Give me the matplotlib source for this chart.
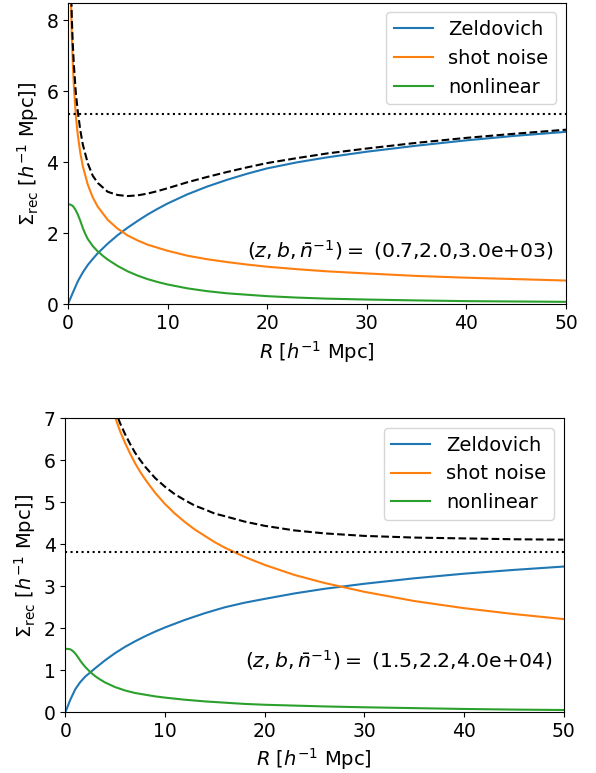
import matplotlib
matplotlib.use("Agg")
import matplotlib.pyplot as plt

# ---- Panel 1: (z, b, 1/n) = (0.7, 2.0, 3.0e+03) ----
r_zel_1 = [0, 0.5, 1, 1.5, 2, 2.5, 3, 4, 5, 6, 7, 8, 9, 10, 12, 14, 16, 18, 20, 23, 26, 30,
           35, 40, 45, 50]
zel_1 = [0, 0.33, 0.65, 0.90, 1.11, 1.28, 1.44, 1.71, 1.95, 2.16, 2.35, 2.53, 2.69, 2.84,
         3.10, 3.32, 3.51, 3.68, 3.83, 4.00, 4.14, 4.30, 4.47, 4.62, 4.75, 4.86]

r_shot_1 = [0.2, 0.3, 0.4, 0.5, 0.6, 0.8, 1, 1.25, 1.5, 2, 2.5, 3, 4, 5, 6, 7, 8, 10, 12, 14,
            16, 18, 20, 23, 26, 30, 35, 40, 45, 50]
shot_1 = [10.6, 8.7, 7.5, 6.75, 6.15, 5.3, 4.76, 4.26, 3.89, 3.37, 3.01, 2.75, 2.38, 2.13,
          1.94, 1.80, 1.68, 1.51, 1.37, 1.27, 1.19, 1.12, 1.06, 0.99, 0.93, 0.87, 0.80, 0.75,
          0.71, 0.67]

r_nl_1 = [0, 0.25, 0.5, 0.75, 1, 1.25, 1.5, 1.75, 2, 2.5, 3, 3.5, 4, 5, 6, 7, 8, 9, 10, 12,
          14, 16, 18, 20, 23, 26, 30, 35, 40, 45, 50]
nl_1 = [2.82, 2.81, 2.77, 2.67, 2.53, 2.35, 2.15, 1.98, 1.84, 1.64, 1.49, 1.37, 1.26, 1.08,
        0.93, 0.81, 0.71, 0.63, 0.56, 0.45, 0.37, 0.31, 0.27, 0.23, 0.19, 0.16, 0.135, 0.11,
        0.09, 0.08, 0.07]

r_tot_1 = [0.2, 0.3, 0.4, 0.5, 0.6, 0.8, 1, 1.25, 1.5, 2, 2.5, 3, 4, 5, 6, 7, 8, 9, 10, 12,
           14, 16, 18, 20, 23, 26, 30, 35, 40, 45, 50]
tot_1 = [11.0, 9.17, 8.0, 7.3, 6.75, 5.95, 5.42, 4.9, 4.5, 3.97, 3.62, 3.42, 3.17, 3.08,
         3.05, 3.07, 3.12, 3.19, 3.27, 3.44, 3.59, 3.73, 3.86, 3.98, 4.12, 4.25, 4.39, 4.55,
         4.69, 4.81, 4.92]

sigma_lin_1 = 5.36
params_1 = "(0.7,2.0,3.0e+03)"

# ---- Panel 2: (z, b, 1/n) = (1.5, 2.2, 4.0e+04) ----
r_zel_2 = [0, 0.5, 1, 1.5, 2, 2.5, 3, 4, 5, 6, 7, 8, 9, 10, 12, 14, 16, 18, 20, 23, 26, 30,
           35, 40, 45, 50]
zel_2 = [0, 0.30, 0.55, 0.72, 0.85, 0.95, 1.05, 1.24, 1.41, 1.56, 1.69, 1.81, 1.92, 2.02,
         2.20, 2.36, 2.50, 2.61, 2.70, 2.83, 2.94, 3.06, 3.19, 3.30, 3.39, 3.47]

r_shot_2 = [3, 4, 4.5, 5, 5.5, 6, 6.5, 7, 7.5, 8, 9, 10, 11, 12, 13, 14, 15, 16, 18, 20, 23,
            26, 30, 35, 40, 45, 50]
shot_2 = [9.1, 7.85, 7.40, 7.02, 6.69, 6.41, 6.16, 5.93, 5.73, 5.55, 5.23, 4.96, 4.73, 4.53,
          4.35, 4.20, 4.05, 3.92, 3.70, 3.51, 3.27, 3.08, 2.87, 2.65, 2.48, 2.34, 2.22]

r_nl_2 = [0, 0.25, 0.5, 0.75, 1, 1.25, 1.5, 1.75, 2, 2.5, 3, 3.5, 4, 5, 6, 7, 8, 9, 10, 12,
          14, 16, 18, 20, 23, 26, 30, 35, 40, 45, 50]
nl_2 = [1.51, 1.51, 1.50, 1.46, 1.40, 1.32, 1.23, 1.15, 1.08, 0.96, 0.86, 0.78, 0.71, 0.60,
        0.52, 0.46, 0.42, 0.38, 0.35, 0.30, 0.26, 0.23, 0.20, 0.18, 0.16, 0.14, 0.12, 0.10,
        0.08, 0.065, 0.055]

r_tot_2 = [4, 4.5, 5, 5.5, 6, 6.5, 7, 7.5, 8, 9, 10, 11, 12, 13, 14, 15, 16, 18, 20, 23, 26,
           30, 35, 40, 45, 50]
tot_2 = [8.0, 7.55, 7.19, 6.88, 6.62, 6.39, 6.18, 6.01, 5.85, 5.58, 5.37, 5.19, 5.05, 4.92,
         4.83, 4.73, 4.67, 4.54, 4.44, 4.33, 4.26, 4.20, 4.16, 4.14, 4.12, 4.11]

sigma_lin_2 = 3.82
params_2 = "(1.5,2.2,4.0e+04)"

plt.rcParams["font.size"] = 14
plt.rcParams["xtick.labelsize"] = 13.5
plt.rcParams["ytick.labelsize"] = 13.5

fig = plt.figure(figsize=(5.96, 7.73), dpi=100)
ax1 = fig.add_axes([0.1139, 0.6063, 0.8358, 0.3903])
ax2 = fig.add_axes([0.1096, 0.0785, 0.8359, 0.3804])

panels = [
    (ax1, r_zel_1, zel_1, r_shot_1, shot_1, r_nl_1, nl_1, r_tot_1, tot_1, sigma_lin_1,
     params_1, 8.5, (18.0, 1.53)),
    (ax2, r_zel_2, zel_2, r_shot_2, shot_2, r_nl_2, nl_2, r_tot_2, tot_2, sigma_lin_2,
     params_2, 7.0, (18.0, 1.25)),
]

for (ax, rz, z, rs, s, rn, n, rt, t, slin, ptxt, ymax, tpos) in panels:
    ax.plot(rz, z, color="C0", lw=1.5, label="Zeldovich")
    ax.plot(rs, s, color="C1", lw=1.5, label="shot noise")
    ax.plot(rn, n, color="C2", lw=1.5, label="nonlinear")
    ax.plot(rt, t, color="k", ls="--", lw=1.5)
    ax.axhline(slin, color="k", ls=":", lw=1.5)
    ax.set_xlim(0, 50)
    ax.set_ylim(0, ymax)
    ax.set_xlabel(r"$R$ [$h^{-1}$ Mpc]")
    ax.set_ylabel(r"$\Sigma_{\rm rec}$ [$h^{-1}$ Mpc]]")
    ax.legend(loc="upper right")
    ax.text(tpos[0], tpos[1], r"$(z,b,\bar{n}^{-1}) = $ " + ptxt, va="center", ha="left",
            fontsize=14.7)

fig.savefig("out.png", dpi=100)
